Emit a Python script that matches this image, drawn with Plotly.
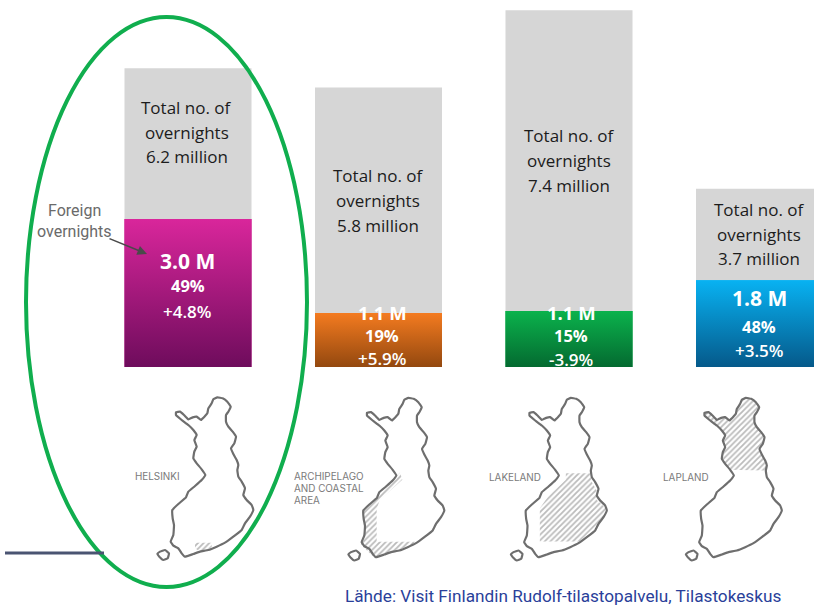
import plotly.graph_objects as go

W, H = 814, 608
BASE_PX, PX_PER_M = 367.0, 48.2
SLOT_X0, SLOT_STEP = 188.0, 190.5

# ---- data ----
regions = ["Helsinki", "Archipelago and coastal area", "Lakeland", "Lapland"]
totals = [6.2, 5.8, 7.4, 3.7]
foreign = [3.07, 1.12, 1.16, 1.80]
total_labels = ["6.2 million", "5.8 million", "7.4 million", "3.7 million"]
foreign_labels = ["3.0 M", "1.1 M", "1.1 M", "1.8 M"]
share_labels = ["49%", "19%", "15%", "48%"]
change_labels = ["+4.8%", "+5.9%", "-3.9%", "+3.5%"]
top_colors = ["#D9269B", "#F47B20", "#0BB24C", "#08B2F2"]
bottom_colors = ["#6E0C5C", "#93480F", "#046A30", "#05598A"]

# text rows and centres (pixel positions of the lines in each bar)
total_rows = [(107, 132, 156), (175, 200, 225), (135, 160, 185), (209, 234, 258)]
total_centres = [186.5, 378, 569, 759]
foreign_rows = [(261, 285, 311), (312, 335, 358), (312, 335, 359), (298, 326, 350)]
foreign_centres = [187.5, 382, 571, 759]

# Finland outline
outline = [(228,97),(240,95),(252,105),(265,118),(278,112),(290,110),(303,120),(315,108),(322,100),(325,85),
 (335,70),(340,58),(352,52),(368,55),(382,65),(392,80),(385,95),(378,105),(378,125),(385,140),(398,155),
 (408,170),(403,190),(393,205),(400,222),(410,240),(415,255),(412,270),(415,290),(425,305),(435,325),
 (430,345),(440,360),(455,375),(460,390),(450,410),(435,430),(425,450),(400,470),(375,488),(350,500),
 (325,510),(300,515),(280,522),(255,530),(245,520),(235,505),(220,497),(212,485),(220,465),(222,435),
 (218,415),(217,390),(235,372),(258,352),(265,335),(285,318),(305,300),(316,285),(305,268),(290,250),
 (280,235),(283,215),(290,200),(283,180),(290,165),(280,150),(265,135),(245,120),(228,105),(228,97)]
island = [(172,522),(180,515),(195,510),(207,520),(203,535),(190,540),(178,530),(172,522)]
hatch_helsinki = [(285,488),(335,488),(335,502),(300,515),(285,505),(285,488)]
hatch_archipelago = [(327,276),(334,298),(267,358),(257,384),(257,484),(372,484),(357,498),(322,508),(282,518),
 (252,533),(227,508),(210,493),(220,453),(215,393),(247,358),(267,335),(327,276)]
hatch_lakeland = [(337,278),(409,278),(414,303),(431,333),(429,358),(457,383),(449,408),(429,433),(379,483),
 (259,483),(259,383),(284,348),(337,298),(337,278)]
hatch_lapland = [p for p in outline if p[1] <= 270] + [(228,97)]
hatches = [hatch_helsinki, hatch_archipelago, hatch_lakeland, hatch_lapland]
map_offsets = [(0, 0), (191, 0.5), (353.5, 0.5), (528.5, 0.5)]
map_labels = [
    [("HELSINKI", 133, 476)],
    [("ARCHIPELAGO", 292, 476), ("AND COASTAL", 292, 488), ("AREA", 292, 500)],
    [("LAKELAND", 487, 477)],
    [("LAPLAND", 661, 477)],
]

TXT = "Open Sans"
idx = list(range(4))
fig = go.Figure()

# grey totals, coloured foreign part
fig.add_bar(x=idx, y=totals, width=127 / SLOT_STEP, marker=dict(color="#D6D6D6", line_width=0),
            name="Total overnights", customdata=regions, showlegend=False)
fig.add_bar(x=idx, y=foreign, width=127 / SLOT_STEP, marker=dict(color=top_colors, line_width=0),
            name="Foreign overnights", customdata=regions, showlegend=False)
# vertical gradient over each foreign bar
hw = 127 / SLOT_STEP / 2
for i in idx:
    fig.add_scatter(x=[i - hw, i + hw, i + hw, i - hw, i - hw], y=[0, 0, foreign[i], foreign[i], 0],
                    mode="lines", line=dict(width=0), fill="toself", hoverinfo="skip", showlegend=False,
                    fillgradient=dict(type="vertical", start=0, stop=foreign[i],
                                      colorscale=[[0, bottom_colors[i]], [1, top_colors[i]]]))

# maps on the pixel-scaled overlay axes
def to_px(points, off):
    return ([100 + x / 3 + off[0] for x, _ in points], [380 + y / 3 + off[1] for _, y in points])

for hatch, off in zip(hatches, map_offsets):
    xs, ys = to_px(hatch, off)
    fig.add_scatter(x=xs, y=ys, xaxis="x2", yaxis="y2", mode="lines", line=dict(width=0), fill="toself",
                    fillcolor="rgba(0,0,0,0)", hoverinfo="skip", showlegend=False,
                    fillpattern=dict(shape="/", size=4, solidity=0.45, fgcolor="#777777", bgcolor="#FFFFFF"))
for off in map_offsets:
    for shape_pts in (outline, island):
        xs, ys = to_px(shape_pts, off)
        fig.add_scatter(x=xs, y=ys, xaxis="x2", yaxis="y2", mode="lines",
                        line=dict(color="#6E6E6E", width=2.2, shape="spline", smoothing=0.3),
                        hoverinfo="skip", showlegend=False)

ann = []
def label(text, x, y, size, color, family=TXT, weight=400, xanchor="center"):
    ann.append(dict(text=text, x=x, y=y, xref="x2", yref="y2",
                    showarrow=False, xanchor=xanchor, yanchor="middle",
                    font=dict(family=family, size=size, color=color, weight=weight)))

for i in idx:
    for text, y in zip(["Total no. of", "overnights", total_labels[i]], total_rows[i]):
        label(text, total_centres[i], y, 17, "#1C1C1C")
    big = 21 if i in (0, 3) else 18.5
    fy = foreign_rows[i]
    cx = foreign_centres[i]
    label(foreign_labels[i], cx, fy[0], big, "#FFFFFF", weight=700)
    label(share_labels[i], cx, fy[1], 16.5, "#FFFFFF", weight=700)
    label(change_labels[i], cx, fy[2], 17, "#FFFFFF", weight=600)
    for text, x, y in map_labels[i]:
        label(text, x, y, 9.9, "#7A7A7A", family="Inter", xanchor="left")

label("Foreign", 74, 210, 16, "#6A6A6A", family="Roboto")
label("overnights", 74, 231, 16, "#6A6A6A", family="Roboto")
label("Lähde: Visit Finlandin Rudolf-tilastopalvelu, Tilastokeskus", 343, 596, 17.2, "#2A3F9A",
      family="Roboto", xanchor="left")
ann.append(dict(x=147, y=254, ax=108, ay=238, xref="x2", yref="y2", axref="x2", ayref="y2", text="",
                showarrow=True, arrowhead=2, arrowsize=1.2, arrowwidth=1.6, arrowcolor="#4A4A4A"))

fig.update_layout(
    width=W, height=H, margin=dict(l=0, r=0, t=0, b=0), barmode="overlay", showlegend=False,
    paper_bgcolor="white", plot_bgcolor="white", annotations=ann,
    xaxis=dict(range=[-SLOT_X0 / SLOT_STEP, (W - SLOT_X0) / SLOT_STEP], visible=False, fixedrange=True),
    yaxis=dict(range=[-(H - BASE_PX) / PX_PER_M, BASE_PX / PX_PER_M], visible=False, fixedrange=True),
    xaxis2=dict(range=[0, W], overlaying="x", visible=False, fixedrange=True),
    yaxis2=dict(range=[H, 0], overlaying="y", visible=False, fixedrange=True),
    shapes=[
        dict(type="circle", xref="x2", yref="y2", x0=26, x1=307, y0=17, y1=587,
             line=dict(color="#10AE4E", width=4)),
        dict(type="line", xref="x2", yref="y2", x0=5, x1=104, y0=553, y1=553,
             line=dict(color="#4A5472", width=3)),
    ],
)
fig.write_html("out.html", config={"displayModeBar": False},
               post_script="document.body.style.margin='0';document.documentElement.style.overflow='hidden';")
